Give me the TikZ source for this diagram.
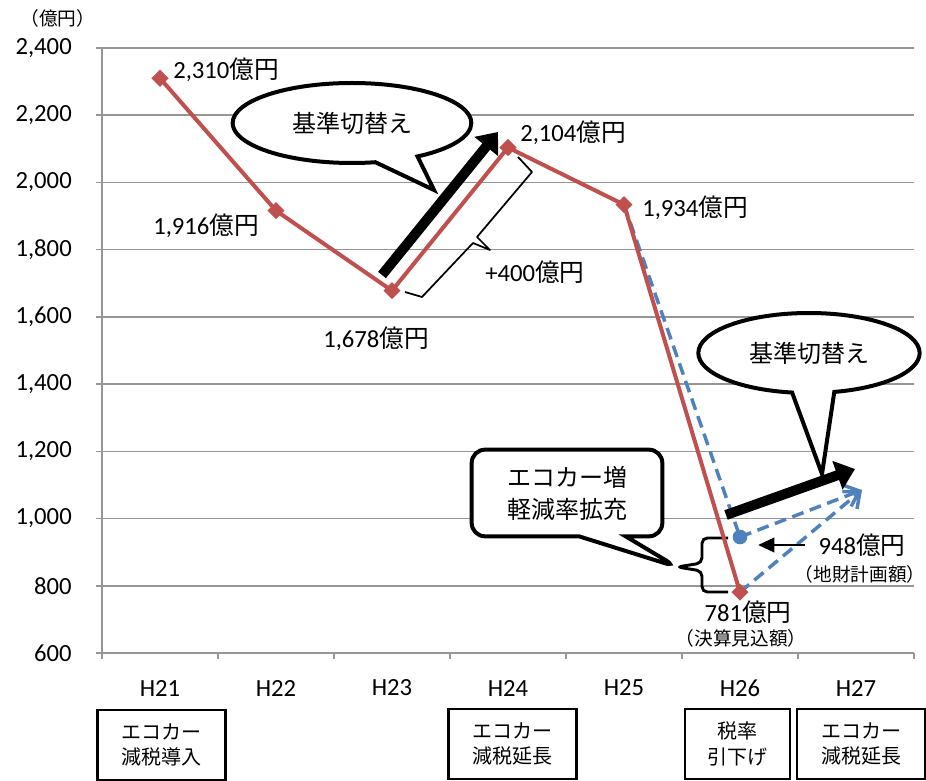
\documentclass[tikz,border=0pt]{standalone}
\usepackage{fontspec}
\setmainfont{Carlito}
\newfontfamily\jp{Noto Sans CJK JP}
\usetikzlibrary{arrows.meta,shapes.geometric,shapes.callouts}
\definecolor{serred}{HTML}{C0504D}
\definecolor{serblue}{HTML}{4F81BD}
\definecolor{gridgray}{RGB}{150,150,150}
\tikzset{>=latex,
  gridline/.style={gridgray, line width=1.1pt},
  redline/.style={serred, line width=3pt, line join=round},
  blueline/.style={serblue, line width=2.6pt, dash pattern=on 9pt off 5pt},
  dmark/.style={diamond, fill=serred, inner sep=0pt, minimum size=13pt},
  bigarrow/.style={line width=7.5pt, -{Triangle[length=14pt,width=22pt]}},
  bubble/.style={draw, fill=white, line width=3pt, inner sep=0pt, font=\jp\fontsize{18}{24}\selectfont},
  val/.style={inner sep=0pt, font=\fontsize{18.5}{20}\selectfont},
  note/.style={inner sep=0pt, font=\jp\fontsize{14}{15}\selectfont},
  evbox/.style={draw, line width=1.6pt, minimum width=96pt, minimum height=53pt, align=center, inner sep=0pt, font=\jp\fontsize{15}{19}\selectfont}
}

\begin{document}
\begin{tikzpicture}[x=0.75pt, y=-0.75pt]
\useasboundingbox (0,0) rectangle (926,781);
\node[note] (unit) at (58,18) {（億円）};
\foreach \v/\t in {600/600,800/800,1000/{1,000},1200/{1,200},1400/{1,400},1600/{1,600},1800/{1,800},2000/{2,000},2200/{2,200},2400/{2,400}}{
  \draw[gridline] (96,{653-(\v-600)*0.3361}) -- (914,{653-(\v-600)*0.3361});
  \node[val, anchor=east] (y\v) at (72,{653-(\v-600)*0.3361}) {\t};
}
\draw[gridline] (102,48) -- (102,653);
\foreach \k in {0,...,7}
  \draw[gridline] ({102+116*\k},653) -- ({102+116*\k},659);
\foreach \k in {1,...,7}
  \node[val] (h\k) at ({44+116*\k},688) {H2\k};

\node[evbox] (ev21) at (161.5,745) {エコカー\\減税導入};
\node[evbox] (ev24) at (512.5,744) {エコカー\\減税延長};
\node[evbox, minimum width=79pt] (ev26) at (737.5,744) {税率\\引下げ};
\node[evbox] (ev27) at (861,744) {エコカー\\減税延長};

\coordinate (tip1) at (434,190);
\coordinate (tip2) at (822,474);
\coordinate (nub) at (677,567);
\node[ellipse callout, bubble, callout absolute pointer={(tip1)}, callout pointer arc=22, minimum width=179pt, minimum height=60pt] (kijun1) at (352,123) {基準切替え};
\node[ellipse callout, bubble, callout absolute pointer={(tip2)}, callout pointer arc=22, minimum width=166pt, minimum height=60pt] (kijun2) at (809,353) {基準切替え};
\node[rectangle callout, bubble, rounded corners=10pt, callout absolute pointer={(nub)}, callout pointer width=35pt, minimum width=143pt, minimum height=65pt, align=center] (zoka) at (567,493) {エコカー増\\軽減率拡充};
\draw[line width=2.2pt, rounded corners=4pt] (728,538) -- (702,538) -- (702,563) -- (nub) -- (702,571) -- (702,592) -- (728,592);
\draw[line width=1.3pt, line join=round] (518,157) -- (532,172) -- (477,237) -- (490,250) -- (473,243) -- (422,297) -- (405,292);

\foreach \i/\v in {1/2310,2/1916,3/1678,4/2104,5/1934,6/781}
  \coordinate (p\i) at ({44+116*\i},{653-(\v-600)*0.3361});
\coordinate (q6) at (740,537);
\coordinate (q7) at (862,490);
\draw[blueline] (p5) -- (q6);
\draw[blueline, -{Straight Barb[length=10pt,width=17pt]}] (q6) -- (q7);
\draw[blueline, -{Straight Barb[length=10pt,width=17pt]}] (p6) -- (q7);
\draw[redline] (p1) -- (p2) -- (p3) -- (p4) -- (p5) -- (p6);
\foreach \i in {1,...,6}
  \node[dmark] (m\i) at (p\i) {};
\node[circle, fill=serblue, inner sep=0pt, minimum size=11pt] (dot948) at (q6) {};

\coordinate (a1) at (382,275);
\coordinate (b1) at (498,132);
\coordinate (a2) at (726,515);
\coordinate (b2) at (855,469);
\draw[bigarrow] (a1) -- (b1);
\draw[bigarrow] (a2) -- (b2);

\node[val, anchor=west] (v2310) at (173,70) {2,310{\jp 億円}};
\node[val] (v1916) at (206,226) {1,916{\jp 億円}};
\node[val] (v1678) at (376,339) {1,678{\jp 億円}};
\node[val, anchor=west] (v2104) at (520,133) {2,104{\jp 億円}};
\node[val, anchor=west] (v1934) at (642,208) {1,934{\jp 億円}};
\node[val] (v400) at (535,272) {+400{\jp 億円}};
\node[val] (v781) at (748,612) {781{\jp 億円}};
\node[note] (n781) at (741,638) {（決算見込額）};
\node[val] (v948) at (862,545) {948{\jp 億円}};
\node[note] (n948) at (860,574) {（地財計画額）};
\draw[line width=1.2pt, -{Triangle[length=12pt,width=11pt]}] ([xshift=-10pt]v948.west) -- ([xshift=8pt]dot948.east |- v948.west);
\end{tikzpicture}
\end{document}
